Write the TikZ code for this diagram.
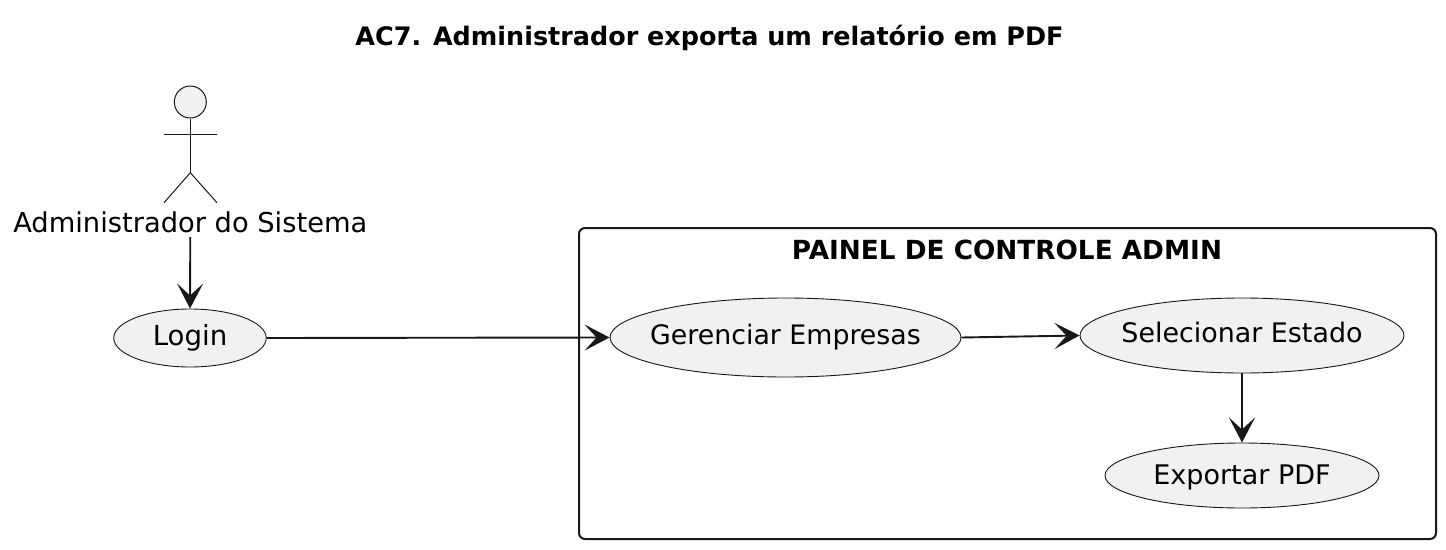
\documentclass[tikz,border=0pt]{standalone}
\usepackage{fontspec}
\setmainfont{DejaVu Sans}
\usetikzlibrary{arrows.meta,shapes.geometric}
\definecolor{ucfill}{HTML}{F1F1F1}
\definecolor{ucline}{HTML}{181818}
\newcommand{\uclabel}[3]{\makebox[0pt]{\raisebox{-#1pt}[0pt][0pt]{\fontsize{#2}{30}\selectfont #3}}}
\tikzset{
  usecase/.style={ellipse,draw=ucline,fill=ucfill,line width=0.9pt,inner sep=0pt},
  flow/.style={draw=ucline,line width=1.9pt,-{Stealth[length=25pt,width=26pt,inset=12pt]}},
  actorline/.style={draw=ucline,line width=1pt},
  plain/.style={inner sep=0pt,text=black},
}
\begin{document}
\begin{tikzpicture}[x=1pt,y=-1pt]
\useasboundingbox (0,0) rectangle (1446,549);
\fill[white] (0,0) rectangle (1446,549);
\node[plain,font=\fontsize{25.45}{30}\selectfont\bfseries] (title) at (709.5,37.5) {AC7. Administrador exporta um relatório em PDF};
\draw[draw=ucline,line width=2pt,rounded corners=6pt] (579,228) rectangle (1436,539);
\node[plain,font=\fontsize{26.3}{30}\selectfont\bfseries] (boxtitle) at (1007,250) {PAINEL DE CONTROLE ADMIN};
% actor
\node[circle,draw=ucline,fill=ucfill,line width=1pt,minimum size=32pt,inner sep=0pt] (head) at (190.3,102) {};
\coordinate (hip) at (190.3,172.7);
\coordinate (armL) at (164,134);
\coordinate (armR) at (217,134);
\coordinate (footL) at (164,202.7);
\coordinate (footR) at (217,202.7);
\draw[actorline] (head.south) -- (hip);
\draw[actorline] (armL) -- (armR);
\draw[actorline] (footL) -- (hip) -- (footR);
\node[plain,font=\fontsize{27.3}{30}\selectfont,minimum height=29pt] (actor) at (190.3,222.5) {Administrador do Sistema};
% use cases
\node[usecase,minimum width=152.5pt,minimum height=58pt] (login) at (190,338) {\uclabel{7}{27.6}{Login}};
\node[usecase,minimum width=351pt,minimum height=79pt] (ger) at (785.5,337.5) {\uclabel{6.5}{26.8}{Gerenciar Empresas}};
\node[usecase,minimum width=324pt,minimum height=75pt] (sel) at (1242,335.5) {\uclabel{7.2}{26.9}{Selecionar Estado}};
\node[usecase,minimum width=274pt,minimum height=65pt] (exp) at (1242,475.5) {\uclabel{8.5}{27}{Exportar PDF}};
% connectors
\draw[flow] (actor.south -| head) -- (login.north);
\draw[flow] (login.east) -- (ger.west);
\draw[flow] (ger.east) -- (sel.west);
\draw[flow] (sel.south) -- (exp.north);
\end{tikzpicture}
\end{document}
